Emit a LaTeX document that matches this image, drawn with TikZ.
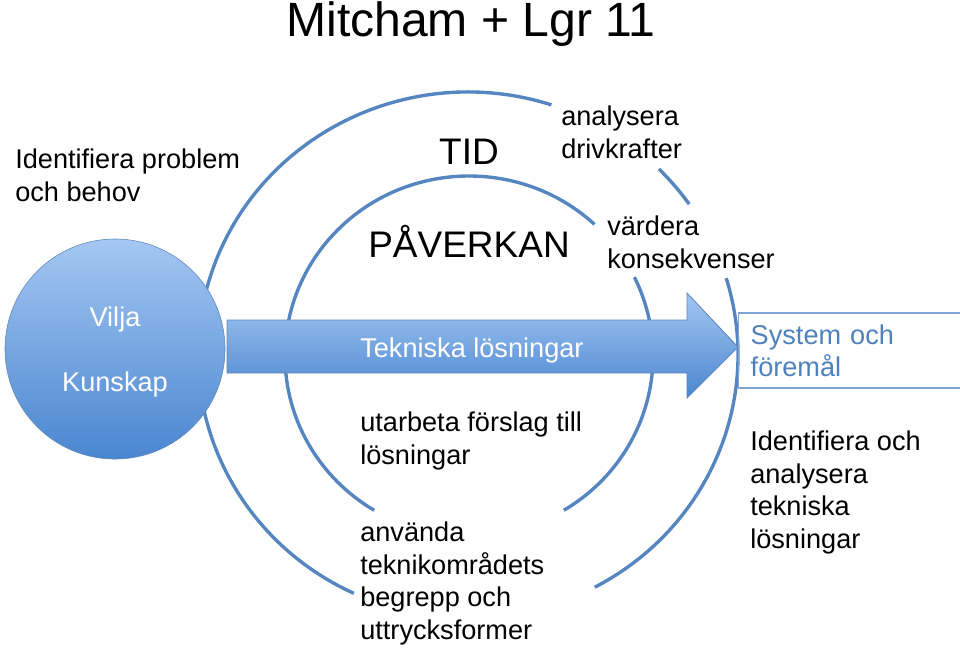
\documentclass[tikz,border=0pt]{standalone}
\usepackage{fontspec}
\setmainfont{Liberation Sans}
\usepackage{tikz}
\usetikzlibrary{positioning,calc}
\definecolor{arcBlue}{RGB}{86,134,192}
\definecolor{lightBlue}{RGB}{164,199,242}
\definecolor{midBlue}{RGB}{74,134,208}
\definecolor{edgeBlue}{RGB}{94,134,184}
\definecolor{boxLine}{RGB}{125,166,214}
\definecolor{boxText}{RGB}{79,129,189}

\begin{document}
\begin{tikzpicture}[x=0.025cm, y=0.025cm,
    every node/.style={font=\fontsize{19.3}{23}\selectfont, align=left, inner sep=0pt},
    arcline/.style={draw=arcBlue, line width=2.4pt},
    bigword/.style={font=\fontsize{26.3}{31}\selectfont, anchor=base}]
            \useasboundingbox (0,0) rectangle (960,-647);

            % Title
            \node[font=\fontsize{34.2}{40}\selectfont, anchor=base] (title) at (471,-36) {Mitcham + Lgr 11};

            % Arcs: outer one (TID) and inner one (PÅVERKAN)
            \coordinate (outerC) at (468,-355);
            \coordinate (innerC) at (469,-356);
            \draw[arcline] ($(outerC)+(72:270 and 263)$) arc[start angle=72, end angle=245, x radius=270, y radius=263];
            \draw[arcline] ($(outerC)+(35:270 and 263)$) arc[start angle=35, end angle=45, x radius=270, y radius=263];
            \draw[arcline] ($(outerC)+(-62:270 and 263)$) arc[start angle=-62, end angle=17, x radius=270, y radius=263];
            \draw[arcline] ($(innerC)+(47:184 and 180)$) arc[start angle=47, end angle=239, x radius=184, y radius=180];
            \draw[arcline] ($(innerC)+(-59:184 and 180)$) arc[start angle=-59, end angle=26, x radius=184, y radius=180];

            % Circle and arrow
            \node[circle, draw=edgeBlue, top color=lightBlue, bottom color=midBlue, minimum size=5.5cm, text=white, align=center,
                text depth=0pt] (base) at (115,-349) {Vilja\\[23pt]Kunskap};
            \draw[draw=edgeBlue, top color=lightBlue, bottom color=midBlue, line width=0.6pt]
                (227,-320) -- (687,-320) -- (687,-293) -- (738,-347) -- (687,-398) -- (687,-373) -- (227,-373) -- cycle;
            \node[text=white, anchor=base west] (solutions) at (360,-357) {Tekniska lösningar};

            % Box on the right
            \node[draw=boxLine, line width=1pt, text=boxText, anchor=west, minimum width=6cm, minimum height=1.875cm,
                text width=5.4cm, inner xsep=0.3cm] (system) at (738,-350.5) {System och\\föremål};

            % Words (base = last line)
            \node[bigword] (tid) at (469,-164) {TID};
            \node[bigword] (paverkan) at (469,-257) {PÅVERKAN};
            \node[anchor=base west] (problem) at (15,-201) {Identifiera problem\\och behov};
            \node[anchor=base west] (drivers) at (561,-158) {analysera\\drivkrafter};
            \node[anchor=base west] (effects) at (607,-268) {värdera\\konsekvenser};
            \node[anchor=base west] (proposals) at (360,-464) {utarbeta förslag till\\lösningar};
            \node[anchor=base west] (concepts) at (360,-639) {använda\\teknikområdets\\begrepp och\\uttrycksformer};
            \node[anchor=base west] (analyse) at (750,-548) {Identifiera och\\analysera\\tekniska\\lösningar};
\end{tikzpicture}
\end{document}
